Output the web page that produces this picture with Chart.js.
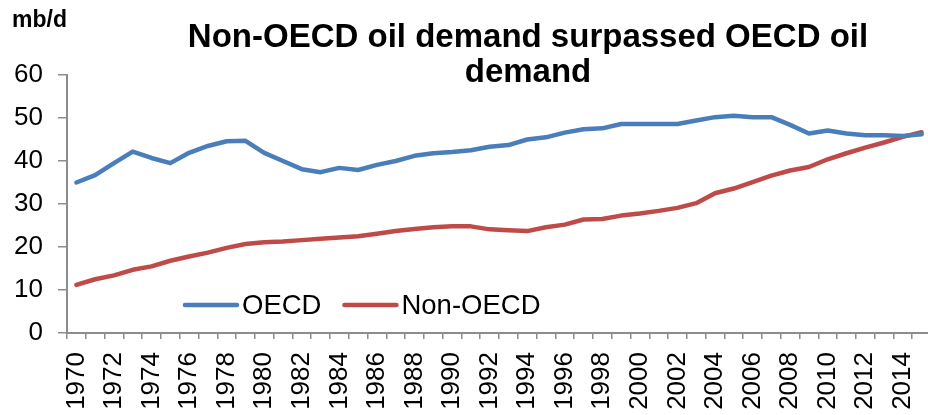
<!DOCTYPE html>
<html>
<head>
<meta charset="utf-8">
<script src="https://cdn.jsdelivr.net/npm/chart.js@4"></script>
<style>
  html, body { margin: 0; padding: 0; background: #fff; overflow: hidden; }
  #wrap { width: 928px; height: 415px; overflow: hidden; position: relative; }
  #box { width: 931px; height: 415px; position: absolute; left: 0; top: 0; }
</style>
</head>
<body>
<div id="wrap"><div id="box"><canvas id="chart"></canvas></div></div>
<script>
// data (mb/d)
const years = [];
for (let y = 1970; y <= 2015; y++) years.push(String(y));

const oecd = [35.0, 36.7, 39.5, 42.2, 40.7, 39.5, 41.9, 43.5, 44.6, 44.7,
              41.9, 40.0, 38.1, 37.4, 38.4, 37.9, 39.1, 40.0, 41.2, 41.8,
              42.1, 42.5, 43.3, 43.7, 45.0, 45.5, 46.6, 47.4, 47.6, 48.6,
              48.6, 48.6, 48.6, 49.4, 50.2, 50.5, 50.2, 50.2, 48.4, 46.4,
              47.1, 46.4, 46.0, 46.0, 45.8, 46.2];
const nonOecd = [11.2, 12.5, 13.4, 14.7, 15.5, 16.8, 17.8, 18.7, 19.8, 20.7,
                 21.1, 21.3, 21.6, 21.9, 22.2, 22.5, 23.1, 23.7, 24.2, 24.6,
                 24.8, 24.8, 24.1, 23.9, 23.7, 24.6, 25.2, 26.4, 26.5, 27.3,
                 27.8, 28.4, 29.1, 30.2, 32.5, 33.6, 35.1, 36.6, 37.8, 38.6,
                 40.4, 41.8, 43.1, 44.3, 45.6, 46.7];
const yTicks = [0, 10, 20, 30, 40, 50, 60];

const titleLines = ['Non-OECD oil demand surpassed OECD oil', 'demand'];
const unitLabel = 'mb/d';

const FONT = 'Arial, "Liberation Sans", Helvetica, sans-serif';
const AXIS = '#8c8c8c';

// title, unit and the in-plot legend (drawn on top of the canvas)
const decor = {
  id: 'decor',
  afterDraw(chart) {
    const ctx = chart.ctx, ca = chart.chartArea;
    ctx.save();
    ctx.fillStyle = '#000';
    ctx.textBaseline = 'alphabetic';
    ctx.font = 'bold 23px ' + FONT;
    ctx.textAlign = 'left';
    ctx.fillText(unitLabel, 12, 27);
    ctx.font = 'bold 33px ' + FONT;
    ctx.textAlign = 'center';
    ctx.fillText(titleLines[0], 528, 47);
    ctx.fillText(titleLines[1], 528, 82);

    // legend
    let x = ca.left + 116;
    const y = ca.bottom - 28;
    ctx.font = '27.5px ' + FONT;
    ctx.textAlign = 'left';
    ctx.textBaseline = 'middle';
    chart.data.datasets.forEach(ds => {
      ctx.strokeStyle = ds.borderColor;
      ctx.lineWidth = 4.5;
      ctx.lineCap = 'round';
      ctx.beginPath();
      ctx.moveTo(x + 2, y);
      ctx.lineTo(x + 54, y);
      ctx.stroke();
      ctx.fillStyle = '#000';
      ctx.fillText(ds.label, x + 59, y + 1);
      x += 59 + ctx.measureText(ds.label).width + 21;
    });
    ctx.restore();
  }
};

new Chart(document.getElementById('chart').getContext('2d'), {
  type: 'line',
  data: {
    labels: years,
    datasets: [
      { label: 'OECD', data: oecd, borderColor: '#4a7ebb', borderWidth: 4.5,
        pointRadius: 0, tension: 0, borderJoinStyle: 'round', borderCapStyle: 'round' },
      { label: 'Non-OECD', data: nonOecd, borderColor: '#be4b48', borderWidth: 4.5,
        pointRadius: 0, tension: 0, borderJoinStyle: 'round', borderCapStyle: 'round' }
    ]
  },
  options: {
    responsive: true, maintainAspectRatio: false, animation: false,
    layout: { padding: { top: 75, right: 0, bottom: 0, left: 0 } },
    plugins: { legend: { display: false }, title: { display: false }, tooltip: { enabled: false } },
    scales: {
      x: {
        offset: true,
        grid: { offset: true, drawOnChartArea: false, color: AXIS, lineWidth: 1.5, tickLength: 6 },
        border: { color: AXIS, width: 2 },
        ticks: {
          autoSkip: false, maxRotation: 90, minRotation: 90, padding: 13,
          color: '#000', font: { family: FONT, size: 26 },
          callback: (v, i) => (i % 2 === 0 ? years[i] : '')
        },
        afterFit: s => { s.height = 82; s.paddingLeft = 0; s.paddingRight = 0; }
      },
      y: {
        min: 0, max: 60,
        afterBuildTicks: s => { s.ticks = yTicks.map(v => ({ value: v })); },
        grid: { drawOnChartArea: false, color: AXIS, lineWidth: 1.5, tickLength: 9 },
        border: { color: AXIS, width: 2 },
        ticks: { color: '#000', padding: 15, font: { family: FONT, size: 26 } },
        afterFit: s => { s.width = 67; }
      }
    }
  },
  plugins: [decor]
});
</script>
</body>
</html>
